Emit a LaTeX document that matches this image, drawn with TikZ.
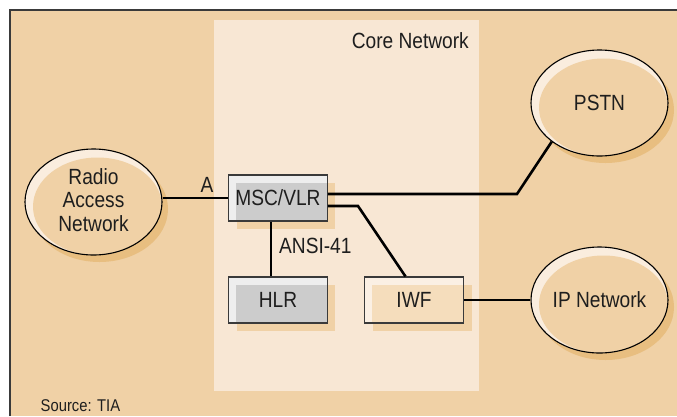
\documentclass[tikz,border=0pt]{standalone}
\usepackage{fontspec}
\setmainfont{Liberation Sans}[FakeStretch=0.87]
\usetikzlibrary{shapes.geometric,shadows}

\definecolor{bgtan}{RGB}{240,209,166}
\definecolor{panel}{RGB}{248,231,212}
\definecolor{ovalhi}{RGB}{250,237,222}
\definecolor{ovalshadow}{RGB}{232,190,128}
\definecolor{boxshadow}{RGB}{240,209,166}
\definecolor{grayhi}{RGB}{238,238,238}
\definecolor{grayfill}{RGB}{204,204,204}
\definecolor{tanhi}{RGB}{251,240,228}
\definecolor{tanfill}{RGB}{245,221,188}
\definecolor{framecol}{RGB}{58,58,58}
\definecolor{ink}{RGB}{30,30,30}

\tikzset{
  lbl/.style={text=ink, font=\fontsize{22}{23.5}\selectfont, inner sep=0pt,
    text height=15.8pt, text depth=0pt},
  netoval/.style={ellipse, draw=black, line width=1.1pt, minimum width=137pt,
    minimum height=106pt, inner sep=0pt, align=center, fill=ovalhi,
    text=ink, font=\fontsize{22}{23.5}\selectfont, text height=15.8pt, text depth=0pt,
    path picture={\fill[bgtan] ([shift={(4pt,-4.5pt)}]path picture bounding box.center)
      ellipse [x radius=64.5pt, y radius=49pt];}},
  netbox/.style={rectangle, draw=framecol, line width=1.1pt, minimum width=98.5pt,
    minimum height=46pt, inner sep=0pt, text=ink,
    font=\fontsize{22}{23.5}\selectfont, text height=15.8pt, text depth=0pt,
    fill=#1hi,
    path picture={\fill[#1fill] ([shift={(7pt,-8pt)}]path picture bounding box.north west)
      rectangle (path picture bounding box.south east);}},
  link/.style={draw=black, line width=2.6pt},
}

\begin{document}
\begin{tikzpicture}[x=1pt,y=-1pt]
  \useasboundingbox (0,0) rectangle (677,416);
  \fill[white] (0,0) rectangle (677,416);
  % outer tan field with a frame on top and left
  \fill[bgtan] (10,10) rectangle (677,416);
  \draw[framecol, line width=1.4pt] (10,416) -- (10,10) -- (677,10);
  % core network panel
  \fill[panel] (214,20) rectangle (479,391);
  \node[lbl, anchor=east] (core) at (469,41) {Core Network};

  % shadows of the network clouds
  \fill[ovalshadow] (99.5,209) ellipse [x radius=68.5pt, y radius=53pt];
  \fill[ovalshadow] (605.5,110) ellipse [x radius=68.5pt, y radius=53pt];
  \fill[ovalshadow] (605.5,307) ellipse [x radius=68.5pt, y radius=53pt];

  % shadows of the boxes
  \fill[boxshadow] (236.5,182.5) rectangle (335,228.5);
  \fill[boxshadow] (236.5,284.5) rectangle (335,330.5);
  \fill[boxshadow] (372.5,284.5) rectangle (471.5,330.5);

  % networks
  \node[netoval, text height=62.8pt, text depth=4pt] (ran) at (93.5,202) {Radio\\Access\\Network};
  \node[netoval] (pstn) at (599.5,103) {PSTN};
  \node[netoval] (ipn) at (599.5,300) {IP Network};

  % core elements
  \node[netbox=gray] (msc) at (278,198) {MSC/VLR};
  \node[netbox=gray] (hlr) at (278,300) {HLR};
  \node[netbox=tan] (iwf) at (414,300) {IWF};

  % connections
  \coordinate (bendp) at (517,194);
  \coordinate (bendi) at (358,206);
  \draw[link] (msc.west) -- (msc.west -| ran.east);
  \node[lbl] (ifa) at (207,185) {A};
  \draw[link] ([xshift=-7pt]msc.south) -- ([xshift=-7pt]hlr.north);
  \node[lbl, anchor=west] (ansi) at (279,246) {ANSI-41};
  \draw[link] ([yshift=4pt]msc.east) -- (bendp) -- (pstn.219);
  \draw[link] ([yshift=-8pt]msc.east) -- (bendi) -- ([xshift=-8.5pt]iwf.north);
  \draw[link] (iwf.east) -- (ipn.west);

  \node[lbl, anchor=west, font=\fontsize{17}{18}\selectfont, text height=12.3pt] (src) at (40.5,405) {Source: TIA};
\end{tikzpicture}
\end{document}
